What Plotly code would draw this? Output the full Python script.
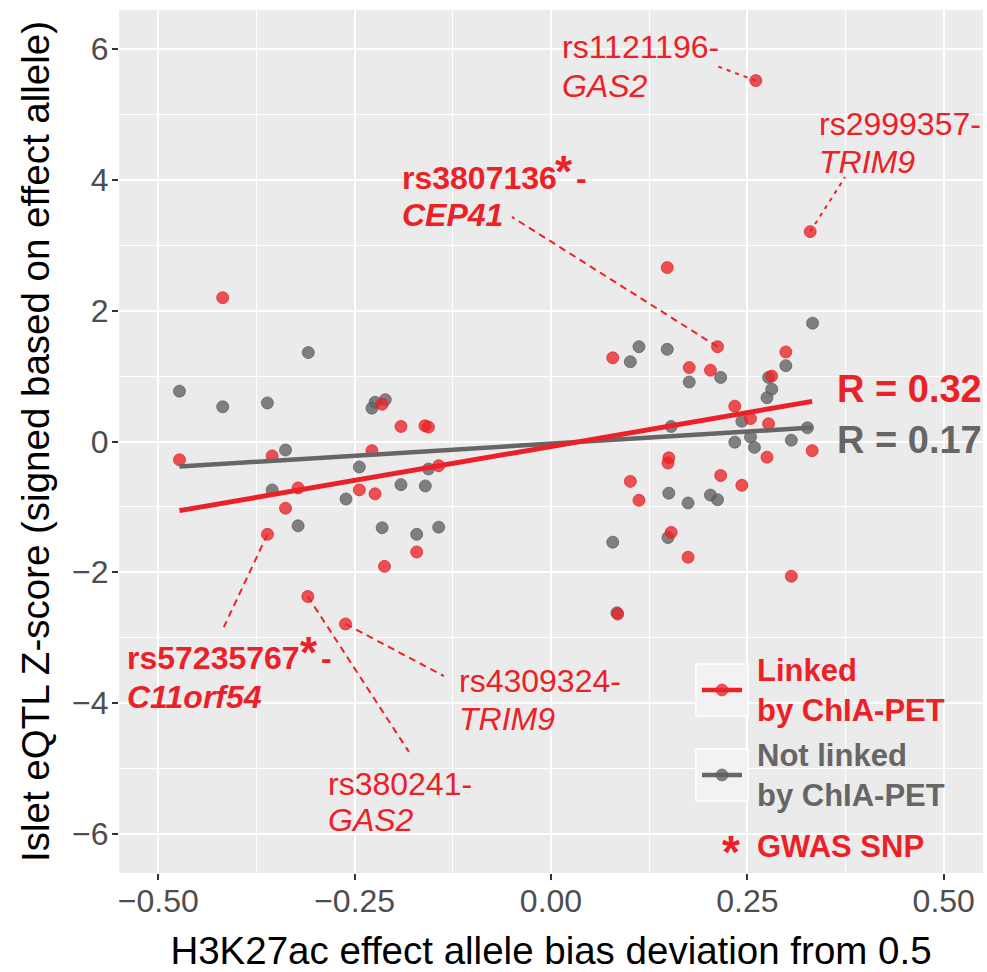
import numpy as np
import plotly.graph_objects as go

# SNPs whose enhancer is linked to the eGene by ChIA-PET
linked_x = [-0.418, -0.215, -0.191, -0.1605, -0.156, -0.473, -0.355, -0.228, -0.143, -0.322,
            -0.244, -0.224, -0.338, -0.361, -0.171, -0.212, -0.3096, -0.2616,
            0.148, 0.212, 0.299, 0.0786, 0.176, 0.203, 0.281, 0.234, 0.254, 0.277,
            0.3325, 0.275, 0.150, 0.149, 0.101, 0.112, 0.216, 0.243, 0.153, 0.1745,
            0.306, 0.085, 0.2607, 0.330]
linked_z = [2.20, 0.57, 0.23, 0.24, 0.22, -0.28, -0.22, -0.14, -0.37, -0.71,
            -0.74, -0.80, -1.02, -1.42, -1.69, -1.91, -2.37, -2.79,
            2.66, 1.45, 1.37, 1.28, 1.13, 1.09, 1.00, 0.54, 0.35, 0.27,
            -0.14, -0.24, -0.25, -0.33, -0.61, -0.90, -0.52, -0.67, -1.39, -1.77,
            -2.06, -2.64, 5.52, 3.21]

# SNPs without a ChIA-PET link
unlinked_x = [-0.309, -0.473, -0.418, -0.361, -0.224, -0.211, -0.228, -0.338, -0.244, -0.156,
              -0.355, -0.261, -0.191, -0.160, -0.322, -0.215, -0.171, -0.143,
              0.333, 0.299, 0.112, 0.101, 0.148, 0.176, 0.216, 0.277, 0.281, 0.275,
              0.243, 0.3265, 0.153, 0.234, 0.254, 0.259, 0.306, 0.150, 0.1745, 0.203,
              0.212, 0.0786, 0.149, 0.084]
unlinked_z = [1.36, 0.77, 0.53, 0.59, 0.60, 0.64, 0.51, -0.13, -0.39, -0.42,
              -0.74, -0.88, -0.66, -0.68, -1.29, -1.32, -1.42, -1.31,
              1.81, 1.16, 1.45, 1.22, 1.41, 0.91, 0.98, 0.98, 0.80, 0.67,
              0.31, 0.21, 0.23, -0.01, 0.07, -0.09, 0.02, -0.79, -0.94, -0.82,
              -0.89, -1.54, -1.47, -2.62]

# highlighted SNP-gene pairs (index into the linked series)
snp_ids = ["rs1121196", "rs2999357", "rs3807136", "rs57235767", "rs4309324", "rs380241"]
snp_genes = ["GAS2", "TRIM9", "CEP41", "C11orf54", "TRIM9", "GAS2"]
snp_gwas = [False, False, True, True, False, False]
snp_point = [40, 41, 19, 13, 17, 16]

r_labels = ["R = 0.32", "R = 0.17"]
legend_labels = ["Linked<br>by ChIA-PET", "Not linked<br>by ChIA-PET", "GWAS SNP"]

x_ticks = [-0.5, -0.25, 0.0, 0.25, 0.5]
x_tick_text = ["\u22120.50", "\u22120.25", "0.00", "0.25", "0.50"]
y_ticks = [-6, -4, -2, 0, 2, 4, 6]
y_tick_text = ["\u22126", "\u22124", "\u22122", "0", "2", "4", "6"]

RED = "#EB2127"
GREY = "#666666"
RED_PT = "rgba(236,34,38,0.78)"
GREY_PT = "rgba(96,96,96,0.78)"
FONT = "Liberation Sans, Arial, Helvetica, sans-serif"

# plot-area geometry in pixels (used for the hand-placed legend)
W, H = 987, 972
ML, MR, MT, MB = 119, 4, 10, 99
PW, PH = W - ML - MR, H - MT - MB


def px(xpix):
    return (xpix - ML) / PW


def py(ypix):
    return (H - MB - ypix) / PH


def fit_line(x, z):
    x = np.asarray(x, float)
    z = np.asarray(z, float)
    slope, icpt = np.polyfit(x, z, 1)
    xs = np.array([x.min(), x.max()])
    return xs, icpt + slope * xs


fig = go.Figure()

fig.add_trace(go.Scatter(x=unlinked_x, y=unlinked_z, mode="markers",
                         marker=dict(size=12, color=GREY_PT, line=dict(width=0.8, color="rgba(90,90,90,0.9)")),
                         showlegend=False, name="Not linked by ChIA-PET"))
fig.add_trace(go.Scatter(x=linked_x, y=linked_z, mode="markers",
                         marker=dict(size=12, color=RED_PT, line=dict(width=0.8, color="rgba(225,30,35,0.9)")),
                         showlegend=False, name="Linked by ChIA-PET"))

gx, gz = fit_line(unlinked_x, unlinked_z)
rx, rz = fit_line(linked_x, linked_z)
fig.add_trace(go.Scatter(x=gx, y=gz, mode="lines", line=dict(color=GREY, width=4.5), showlegend=False))
fig.add_trace(go.Scatter(x=rx, y=rz, mode="lines", line=dict(color=RED, width=5), showlegend=False))

# label placement for highlighted SNPs (data units):
# left x, line-1 y, line-2 y, leader end x/y, dash, GWAS asterisk (x, y), trailing dash x
label_layout = {
    "rs1121196": (0.0115, 6.03, 5.435, 0.2115, 5.74, "4px,5px", None, None),
    "rs2999357": (0.3389, 4.855, 4.275, 0.3745, 4.046, "4px,5px", None, None),
    "rs3807136": (-0.1924, 4.031, 3.466, -0.0497, 3.435, "7px,5px", (0.0166, 4.137), 0.0293),
    "rs57235767": (-0.5427, -3.305, -3.904, -0.4166, -2.84, "7px,5px", (-0.3076, -3.221), -0.2955),
    "rs4309324": (-0.1197, -3.664, -4.244, -0.1363, -3.588, "7px,5px", None, None),
    "rs380241": (-0.2866, -5.237, -5.786, -0.1809, -4.748, "7px,5px", None, None),
}


def label(x, y, txt, size=32, color=RED, xanchor="left"):
    return dict(x=x, y=y, xref="x", yref="y", text=txt, showarrow=False,
                xanchor=xanchor, yanchor="middle", font=dict(family=FONT, size=size, color=color))


shapes = []
annotations = []
for sid, gene, gwas, idx in zip(snp_ids, snp_genes, snp_gwas, snp_point):
    lx, ly1, ly2, ex, ey, dash, star, dash_x = label_layout[sid]
    shapes.append(dict(type="line", xref="x", yref="y", x0=linked_x[idx], y0=linked_z[idx],
                       x1=ex, y1=ey, layer="between",
                       line=dict(color=RED, width=2, dash=dash)))
    if gwas:
        annotations.append(label(lx, ly1, "<b>%s</b>" % sid))
        annotations.append(label(star[0], star[1], "<b>*</b>", size=44, xanchor="center"))
        annotations.append(label(dash_x, ly1, "<b>-</b>"))
        annotations.append(label(lx, ly2, "<b><i>%s</i></b>" % gene))
    else:
        annotations.append(label(lx, ly1, "%s-" % sid))
        annotations.append(label(lx, ly2, "<i>%s</i>" % gene))

# correlation labels next to the fitted lines
for txt, col, yy in zip(r_labels, [RED, GREY], [0.809, 0.03]):
    annotations.append(label(0.3618, yy, "<b>%s</b>" % txt, size=38, color=col))

# legend drawn inside the panel (bottom right)
for (top, col, ptcol) in ((664, RED, RED_PT), (749, GREY, GREY_PT)):
    cy = top + 26
    shapes.append(dict(type="rect", xref="paper", yref="paper", x0=px(696), x1=px(748),
                       y0=py(top + 52), y1=py(top), layer="above",
                       fillcolor="#F2F2F2", line=dict(color="white", width=1.5)))
    shapes.append(dict(type="line", xref="paper", yref="paper", x0=px(702), x1=px(742),
                       y0=py(cy), y1=py(cy), layer="above", line=dict(color=col, width=4.5)))
    shapes.append(dict(type="circle", xref="paper", yref="paper", x0=px(716), x1=px(728),
                       y0=py(cy + 6), y1=py(cy - 6), layer="above",
                       fillcolor=ptcol, line=dict(color=ptcol, width=0.8)))

for txt, col, cy in zip(legend_labels, [RED, GREY, RED], [690, 775, 846]):
    annotations.append(dict(x=px(755), y=py(cy), xref="paper", yref="paper",
                            text="<b>%s</b>" % txt, showarrow=False, xanchor="left",
                            yanchor="middle", align="left",
                            font=dict(family=FONT, size=31, color=col)))
annotations.append(dict(x=px(731), y=py(852), xref="paper", yref="paper", text="<b>*</b>",
                        showarrow=False, xanchor="center", yanchor="middle",
                        font=dict(family=FONT, size=46, color=RED)))

fig.update_layout(
    width=W, height=H,
    margin=dict(l=ML, r=MR, t=MT, b=MB, pad=0),
    paper_bgcolor="white", plot_bgcolor="#EBEBEB",
    shapes=shapes, annotations=annotations, showlegend=False,
    font=dict(family=FONT),
)

fig.update_xaxes(range=[-0.55, 0.55], tickvals=x_ticks, ticktext=x_tick_text,
                 showgrid=True, gridcolor="white", gridwidth=2, zeroline=False, showline=False,
                 minor=dict(tickvals=[-0.375, -0.125, 0.125, 0.375], showgrid=True,
                            gridcolor="white", gridwidth=1),
                 ticks="outside", ticklen=6, tickwidth=2, tickcolor="#333333",
                 ticklabelstandoff=-6,
                 tickfont=dict(family=FONT, size=32, color="#4D4D4D"),
                 title=dict(text="H3K27ac effect allele bias deviation from 0.5",
                            font=dict(family=FONT, size=38.5, color="black"), standoff=20))
fig.update_yaxes(range=[-6.6, 6.6], tickvals=y_ticks, ticktext=y_tick_text,
                 showgrid=True, gridcolor="white", gridwidth=2, zeroline=False, showline=False,
                 minor=dict(tickvals=[-5, -3, -1, 1, 3, 5], showgrid=True,
                            gridcolor="white", gridwidth=1),
                 ticks="outside", ticklen=6, tickwidth=2, tickcolor="#333333",
                 ticklabelstandoff=-3,
                 tickfont=dict(family=FONT, size=32, color="#4D4D4D"),
                 title=dict(text="Islet eQTL Z-score (signed based on effect allele)",
                            font=dict(family=FONT, size=38.5, color="black"), standoff=10))

fig.write_html("out.html")
